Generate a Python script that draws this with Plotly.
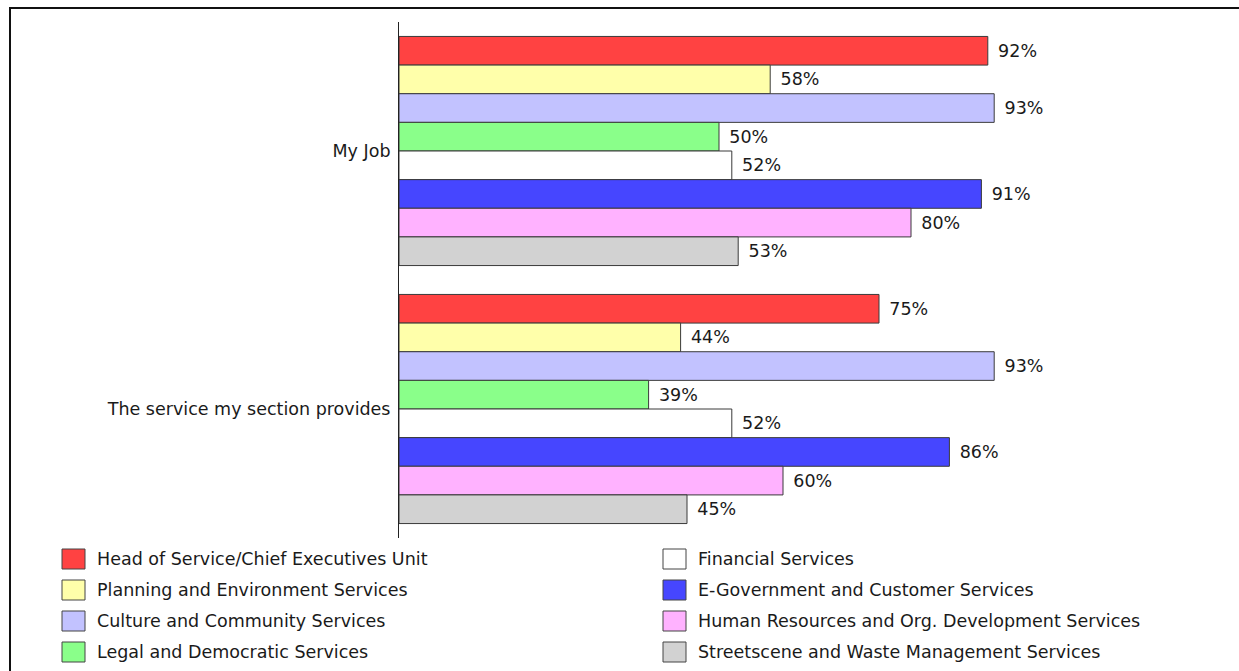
import plotly.graph_objects as go

# Survey questions (category axis) and departments (one bar trace each)
questions = ["My Job", "The service my section provides"]
departments = [
    "Head of Service/Chief Executives Unit",
    "Planning and Environment Services",
    "Culture and Community Services",
    "Legal and Democratic Services",
    "Financial Services",
    "E-Government and Customer Services",
    "Human Resources and Org. Development Services",
    "Streetscene and Waste Management Services",
]
colors = ["#FF4242", "#FFFFAA", "#C2C2FF", "#8AFF8A",
          "#FFFFFF", "#4646FF", "#FFB2FF", "#D2D2D2"]

# Percentages per department: [My Job, The service my section provides]
head_of_service = [92, 75]
planning_env = [58, 44]
culture_community = [93, 93]
legal_democratic = [50, 39]
financial = [52, 52]
egov_customer = [91, 86]
hr_org_dev = [80, 60]
streetscene_waste = [53, 45]

series = [head_of_service, planning_env, culture_community, legal_democratic,
          financial, egov_customer, hr_org_dev, streetscene_waste]

FONT = "DejaVu Sans, Verdana, sans-serif"
FS = 17.5
TXT = "#1a1a1a"
W, H = 1239, 671
L, R, T, B = 399, 200, 22, 133

fig = go.Figure()
for name, vals, col in zip(departments, series, colors):
    fig.add_trace(go.Bar(
        y=questions, x=vals, name=name, orientation="h",
        marker=dict(color=col, line=dict(color="#3a3a3a", width=1)),
        text=[f"\u00a0\u200a{v}%" for v in vals], textposition="outside",
        constraintext="none", cliponaxis=False,
        textfont=dict(family=FONT, size=FS, color=TXT),
        showlegend=False,
    ))

fig.update_layout(
    width=W, height=H,
    margin=dict(l=L, r=R, t=T, b=B),
    paper_bgcolor="white", plot_bgcolor="white",
    barmode="group", bargap=0.112, bargroupgap=0,
    font=dict(family=FONT, size=FS, color=TXT),
    xaxis=dict(range=[0, 100], visible=False, fixedrange=True),
    yaxis=dict(autorange="reversed", showline=True, linecolor="#222222",
               linewidth=1, ticks="", ticklabelstandoff=4,
               tickfont=dict(family=FONT, size=FS, color=TXT),
               showgrid=False, zeroline=False),
)

# Frame around the chart (top and left edges visible)
def px_x(p):
    return (p - L) / (W - L - R)

def px_y(p):
    return (H - B - p) / (H - T - B)

fig.add_shape(type="line", xref="paper", yref="paper",
              x0=px_x(9), x1=px_x(W + 5), y0=px_y(8), y1=px_y(8),
              line=dict(color="#111111", width=2))
fig.add_shape(type="line", xref="paper", yref="paper",
              x0=px_x(10), x1=px_x(10), y0=px_y(8), y1=px_y(H + 5),
              line=dict(color="#111111", width=2))

# Two-column legend drawn below the plot
col_x = [62, 663]
row_y0, row_dy = 549, 31
for i, (name, col) in enumerate(zip(departments, colors)):
    c, r = divmod(i, 4)
    x0 = col_x[c]
    y0 = row_y0 + r * row_dy
    fig.add_shape(type="rect", xref="paper", yref="paper",
                  x0=px_x(x0), x1=px_x(x0 + 23), y0=px_y(y0), y1=px_y(y0 + 20),
                  fillcolor=col, line=dict(color="#444444", width=1))
    fig.add_annotation(xref="paper", yref="paper", x=px_x(x0 + 33),
                       y=px_y(y0 + 10), text=name, showarrow=False,
                       xanchor="left", yanchor="middle",
                       font=dict(family=FONT, size=FS, color=TXT))

fig.write_html("out.html")
